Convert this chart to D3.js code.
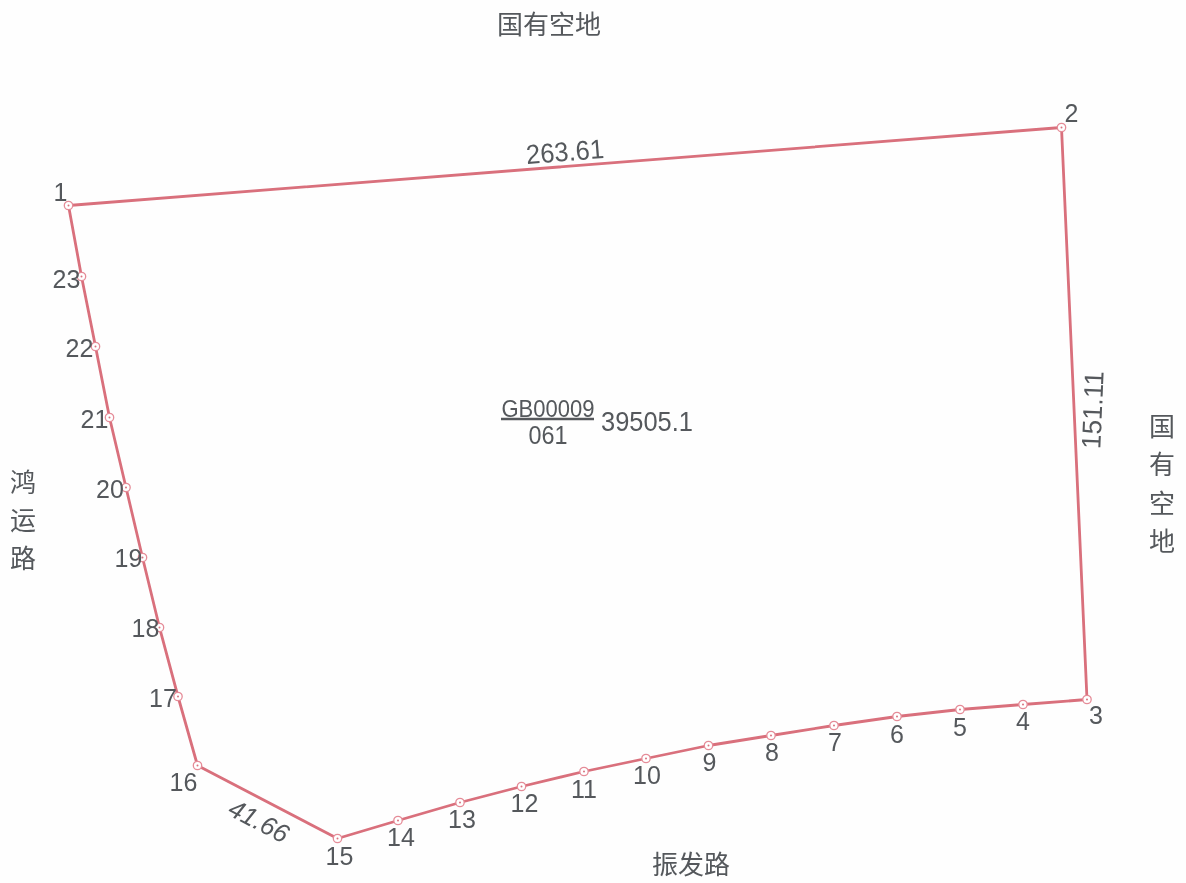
<!DOCTYPE html>
<html><head><meta charset="utf-8">
<script src="https://cdn.jsdelivr.net/npm/d3@7/dist/d3.min.js"></script>
<style>html,body{margin:0;padding:0;background:#fefefe}svg{display:block}text{fill:#54585c;font-family:"Liberation Sans",sans-serif}</style>
</head><body><svg id="c" width="1186" height="883"></svg>
<script>
// Boundary vertices read from the plan (east, north measured in picture units)
const pointIds = [1,2,3,4,5,6,7,8,9,10,11,12,13,14,15,16,17,18,19,20,21,22,23];
const east  = [68.5,1061.5,1087,1023,960,897,834,771,708.5,646,584,521.5,460,398,337.5,197.5,178,159.5,142.5,126,109.5,95.5,81.5];
const north = [677.5,755.5,183.5,178.5,173.5,166.5,157.5,147.5,137.5,124.5,111.5,96.5,80.5,62.5,44.5,117.5,186.5,255.5,325.5,395.5,465.5,536.5,606.5];
const edgeLengths = ["263.61","151.11","41.66"];
const parcelCode = "GB00009", parcelClass = "061", parcelArea = "39505.1";
const neighbours = ["国有空地","国有空地","振发路","鸿运路"];

// Layout only
const labelDX = [-8,10,9,0,0,0,1,1,1,1,0,3,2,3,2,-14,-15,-14,-14,-16,-15,-16,-15];
const labelDY = [-12,-13,17,18,19,19,18,18,18,18,19,18,18,18,19,18,3,2,2,3,3,3,4];

const W = 1186, H = 883;
const x = d3.scaleLinear().domain([0,W]).range([0,W]);
const y = d3.scaleLinear().domain([0,H]).range([H,0]);
const svg = d3.select("#c");
svg.append("defs").append("filter").attr("id","scan").append("feGaussianBlur").attr("stdDeviation",0.4);
const root = svg.append("g").attr("filter","url(#scan)");
const pts = pointIds.map((id,i)=>({id,e:east[i],n:north[i],dx:labelDX[i],dy:labelDY[i]}));

root.append("path").attr("d", d3.line().x(d=>x(d.e)).y(d=>y(d.n)).curve(d3.curveLinearClosed)(pts))
  .attr("fill","none").attr("stroke","#d96f7c").attr("stroke-width",2.8).attr("stroke-linejoin","round");

const v = root.selectAll("g.v").data(pts).join("g").attr("class","v")
  .attr("transform",d=>`translate(${x(d.e)},${y(d.n)})`);
v.append("circle").attr("r",4.2).attr("fill","#fff").attr("stroke","#e58c98").attr("stroke-width",1.3);
v.append("circle").attr("r",1).attr("fill","#d9737f");
v.append("text").text(d=>d.id).attr("x",d=>d.dx).attr("y",d=>d.dy-1.5)
  .attr("text-anchor","middle").attr("dominant-baseline","central")
  .attr("font-size",25);

function rotLabel(t,cx,cy,a,fs,w,style){
  root.append("text").text(t).attr("transform",`translate(${cx},${cy}) rotate(${a})`)
    .attr("text-anchor","middle").attr("dominant-baseline","central")
    .attr("font-size",fs).attr("font-style",style||"normal")
    .attr("textLength",w).attr("lengthAdjust","spacingAndGlyphs");
}
rotLabel(edgeLengths[0],565,152,-4.5,27,78);
rotLabel(edgeLengths[1],1093,410,-87.5,27,78);
rotLabel(edgeLengths[2],259,821,27.5,26,64,"italic");

rotLabel(parcelCode,548,408,0,24,93);
rotLabel(parcelClass,548,435,0,25,39);
rotLabel(parcelArea,647,422,0,27,92);
root.append("line").attr("x1",501).attr("x2",594).attr("y1",419).attr("y2",419)
  .attr("stroke","#54585c").attr("stroke-width",2.4);

function cjk(t,cx,cy){
  root.append("text").text(t).attr("x",cx).attr("y",cy-1.5).attr("text-anchor","middle")
    .attr("dominant-baseline","central").attr("font-size",26)
    .style("font-family",'"Noto Sans CJK SC"').style("font-weight",400);
}
cjk(neighbours[0],549,24);
cjk(neighbours[2],691,864);
[...neighbours[1]].forEach((c,i)=>cjk(c,1162,[426,464,503,541][i]));
[...neighbours[3]].forEach((c,i)=>cjk(c,23,[482,520,558][i]));
</script></body></html>
